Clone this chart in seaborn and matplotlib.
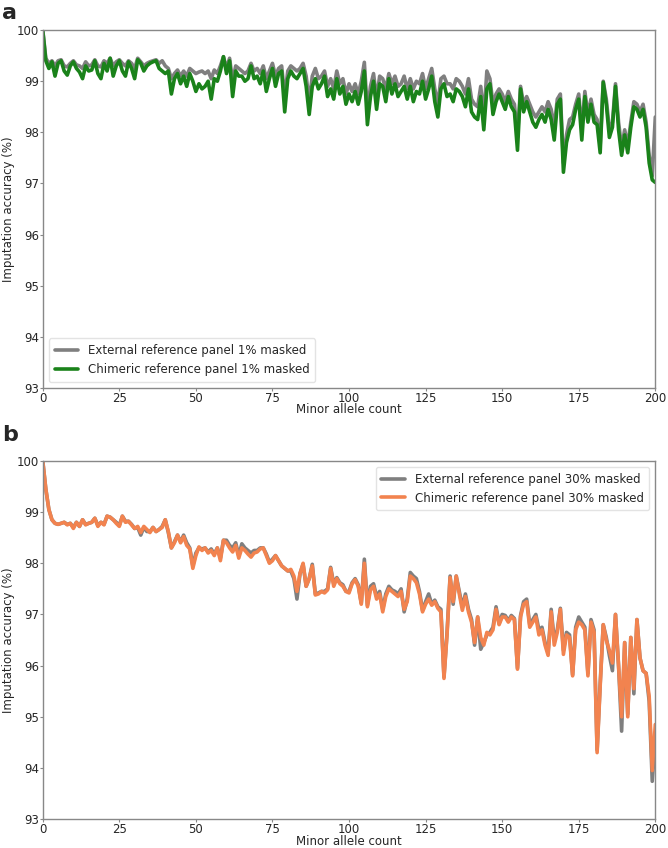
import numpy as np
import pandas as pd
import matplotlib
matplotlib.use("Agg")
import matplotlib.pyplot as plt
import seaborn as sns

# ---------------- data ----------------
minor_allele_count = list(range(0, 201))

ext_1pct = [
    100.0, 99.45, 99.35, 99.40, 99.30, 99.40, 99.42, 99.30, 99.28, 99.35,
    99.40, 99.32, 99.30, 99.25, 99.38, 99.30, 99.32, 99.42, 99.30, 99.28,
    99.40, 99.35, 99.45, 99.30, 99.38, 99.42, 99.35, 99.30, 99.40, 99.35,
    99.25, 99.45, 99.38, 99.30, 99.35, 99.38, 99.40, 99.42, 99.35, 99.40,
    99.30, 99.25, 99.05, 99.15, 99.22, 99.10, 99.20, 99.10, 99.25, 99.20,
    99.15, 99.18, 99.20, 99.15, 99.20, 99.05, 99.22, 99.15, 99.30, 99.48,
    99.25, 99.45, 99.00, 99.30, 99.25, 99.20, 99.15, 99.20, 99.35, 99.20,
    99.25, 99.15, 99.30, 99.05, 99.20, 99.35, 99.10, 99.25, 99.30, 98.70,
    99.20, 99.30, 99.25, 99.20, 99.25, 99.35, 99.10, 98.60, 99.10, 99.25,
    99.05, 99.10, 99.20, 98.90, 99.05, 98.85, 99.20, 98.95, 99.05, 98.75,
    98.95, 98.80, 98.95, 98.75, 99.00, 99.37, 98.40, 98.90, 99.15, 98.65,
    99.10, 99.05, 98.85, 99.15, 98.95, 99.10, 98.90, 98.95, 99.10, 98.85,
    99.05, 98.85, 99.00, 98.95, 99.15, 98.85, 99.05, 99.25, 98.85, 98.55,
    99.05, 99.10, 98.95, 98.95, 98.85, 99.05, 99.00, 98.90, 98.75, 99.05,
    98.65, 98.55, 98.50, 98.90, 98.30, 99.20, 99.05, 98.55, 98.75, 98.85,
    98.75, 98.60, 98.80, 98.65, 98.55, 97.90, 98.90, 98.55, 98.70, 98.55,
    98.40, 98.30, 98.40, 98.50, 98.40, 98.60, 98.45, 98.10, 98.65, 98.75,
    97.40, 97.95, 98.25, 98.30, 98.55, 98.75, 98.05, 98.80, 98.35, 98.65,
    98.35, 98.25, 97.75, 99.00, 98.65, 98.05, 98.20, 98.95, 98.20, 97.70,
    98.05, 97.75, 98.20, 98.60, 98.55, 98.40, 98.55, 98.20, 97.55, 97.15,
    98.30,
]

chim_1pct = [
    100.0, 99.40, 99.25, 99.38, 99.10, 99.35, 99.40, 99.20, 99.12, 99.30,
    99.38, 99.25, 99.18, 99.05, 99.30, 99.20, 99.22, 99.40, 99.15, 99.05,
    99.35, 99.20, 99.45, 99.10, 99.30, 99.40, 99.20, 99.10, 99.38, 99.25,
    99.05, 99.42, 99.35, 99.20, 99.30, 99.35, 99.38, 99.40, 99.25, 99.20,
    99.15, 99.20, 98.75, 99.05, 99.15, 98.95, 99.10, 98.90, 99.15, 99.00,
    98.80, 98.95, 98.85, 98.90, 99.00, 98.65, 99.05, 99.00, 99.20, 99.48,
    99.15, 99.40, 98.70, 99.20, 99.10, 99.10, 99.00, 99.05, 99.30, 99.05,
    99.10, 98.95, 99.20, 98.80, 99.05, 99.25, 98.90, 99.15, 99.20, 98.40,
    99.05, 99.20, 99.10, 99.05, 99.15, 99.25, 98.90, 98.35, 98.90, 99.05,
    98.85, 98.95, 99.10, 98.70, 98.85, 98.65, 99.05, 98.75, 98.90, 98.55,
    98.75, 98.60, 98.80, 98.55, 98.80, 99.20, 98.15, 98.70, 99.00, 98.45,
    98.95, 98.90, 98.60, 99.05, 98.75, 98.95, 98.70, 98.80, 98.90, 98.65,
    98.90, 98.60, 98.80, 98.75, 99.00, 98.65, 98.85, 99.10, 98.60, 98.30,
    98.85, 98.95, 98.70, 98.75, 98.60, 98.85, 98.80, 98.70, 98.50, 98.85,
    98.40, 98.30, 98.25, 98.70, 98.05, 98.85, 98.95, 98.35, 98.60, 98.75,
    98.60, 98.45, 98.70, 98.50, 98.40, 97.65, 98.85, 98.40, 98.60, 98.40,
    98.20, 98.10, 98.25, 98.35, 98.20, 98.45, 98.25, 97.85, 98.55, 98.65,
    97.22, 97.80, 98.05, 98.15, 98.45, 98.65, 97.85, 98.70, 98.20, 98.55,
    98.20, 98.15, 97.60, 98.98, 98.55, 97.90, 98.10, 98.90, 98.05, 97.55,
    97.95, 97.60, 98.10, 98.50, 98.45, 98.30, 98.45, 98.10, 97.40, 97.07,
    97.02,
]

ext_30pct = [
    100.0, 99.45, 99.05, 98.85, 98.78, 98.76, 98.78, 98.80, 98.76, 98.78,
    98.70, 98.80, 98.72, 98.85, 98.76, 98.78, 98.80, 98.88, 98.74, 98.80,
    98.76, 98.92, 98.90, 98.85, 98.80, 98.74, 98.92, 98.82, 98.82, 98.76,
    98.68, 98.70, 98.55, 98.70, 98.62, 98.62, 98.70, 98.62, 98.66, 98.72,
    98.85, 98.60, 98.30, 98.42, 98.55, 98.42, 98.55, 98.40, 98.30, 97.95,
    98.20, 98.30, 98.28, 98.30, 98.22, 98.28, 98.18, 98.30, 98.10, 98.45,
    98.45, 98.35, 98.30, 98.40, 98.15, 98.38, 98.30, 98.25, 98.20, 98.25,
    98.25, 98.30, 98.30, 98.18, 98.02, 98.08, 98.15, 98.05, 97.95, 97.90,
    97.85, 97.85, 97.70, 97.30, 97.80, 97.98, 97.55, 97.70, 97.98, 97.40,
    97.42, 97.45, 97.45, 97.50, 97.92, 97.60, 97.72, 97.62, 97.58, 97.45,
    97.45, 97.62, 97.70, 97.58, 97.22, 98.08, 97.18, 97.55, 97.60, 97.35,
    97.45, 97.10, 97.40, 97.55, 97.48, 97.45, 97.40, 97.50, 97.05, 97.30,
    97.82, 97.75, 97.70, 97.45, 97.08, 97.25, 97.40, 97.20, 97.28, 97.15,
    97.10, 95.78, 96.65, 97.75, 97.20, 97.75, 97.45, 97.15, 97.40, 97.10,
    96.90, 96.40, 96.95, 96.32, 96.45, 96.60, 96.65, 96.75, 97.15, 96.82,
    97.00, 96.98, 96.88, 96.98, 96.92, 95.95, 96.98, 97.25, 97.30, 96.80,
    96.90, 97.00, 96.70, 96.75, 96.45, 96.25, 97.10, 96.50, 96.70, 97.12,
    96.30, 96.65, 96.60, 95.82, 96.75, 96.95, 96.85, 96.75, 95.85, 96.90,
    96.70, 94.35, 95.65, 96.80, 96.55, 96.20, 95.90, 97.00, 96.00, 94.72,
    96.45, 95.05, 96.55, 95.45, 96.90, 96.15, 95.90, 95.85, 95.30, 93.74,
    94.60,
]

chim_30pct = [
    100.0, 99.45, 99.05, 98.85, 98.78, 98.76, 98.78, 98.80, 98.75, 98.78,
    98.68, 98.80, 98.72, 98.85, 98.75, 98.78, 98.80, 98.88, 98.72, 98.80,
    98.75, 98.92, 98.90, 98.85, 98.78, 98.72, 98.92, 98.80, 98.82, 98.75,
    98.68, 98.72, 98.60, 98.72, 98.66, 98.60, 98.70, 98.62, 98.66, 98.70,
    98.85, 98.62, 98.30, 98.40, 98.55, 98.40, 98.52, 98.35, 98.28, 97.90,
    98.15, 98.32, 98.25, 98.30, 98.20, 98.25, 98.15, 98.30, 98.05, 98.45,
    98.40, 98.30, 98.22, 98.35, 98.10, 98.30, 98.25, 98.18, 98.12, 98.20,
    98.22, 98.28, 98.30, 98.15, 98.00, 98.05, 98.15, 98.05, 97.95, 97.90,
    97.85, 97.88, 97.75, 97.45, 97.80, 98.00, 97.55, 97.70, 97.95, 97.38,
    97.40, 97.45, 97.42, 97.48, 97.90, 97.55, 97.70, 97.60, 97.55, 97.45,
    97.42, 97.60, 97.68, 97.55, 97.20, 98.00, 97.15, 97.48, 97.55, 97.30,
    97.40, 97.05, 97.35, 97.50, 97.45, 97.40, 97.35, 97.45, 97.10, 97.25,
    97.75, 97.70, 97.62, 97.40, 97.05, 97.20, 97.30, 97.18, 97.25, 97.12,
    97.05, 95.75, 96.60, 97.72, 97.25, 97.75, 97.40, 97.08, 97.35, 97.05,
    96.85, 96.45, 96.95, 96.55, 96.40, 96.65, 96.60, 96.70, 97.10, 96.80,
    96.95, 96.95, 96.85, 96.95, 96.90, 95.93, 96.95, 97.20, 97.25, 96.75,
    96.85, 96.95, 96.60, 96.70, 96.40, 96.20, 97.05, 96.40, 96.65, 97.10,
    96.22, 96.60, 96.55, 95.80, 96.70, 96.85, 96.80, 96.70, 95.80, 96.85,
    96.65, 94.30, 95.60, 96.80, 96.50, 96.30, 96.05, 97.00, 96.00, 95.00,
    96.45, 95.00, 96.55, 95.55, 96.90, 96.15, 95.90, 95.85, 95.40, 93.95,
    94.85,
]

labels_a = ["External reference panel 1% masked", "Chimeric reference panel 1% masked"]
labels_b = ["External reference panel 30% masked", "Chimeric reference panel 30% masked"]
yticks = [93, 94, 95, 96, 97, 98, 99, 100]
xticks = [0, 25, 50, 75, 100, 125, 150, 175, 200]

# ---------------- style ----------------
sns.set_style("white")
plt.rcParams["font.family"] = ["DejaVu Sans"]
FS = 8.5

GRAY = "#7f7f7f"
GREEN = "#1a821a"
ORANGE = "#f2834f"
SPINE = "#888888"

fig = plt.figure(figsize=(6.68, 8.48), dpi=100)
ax_a = fig.add_axes([0.064, 0.5425, 0.917, 0.422])
ax_b = fig.add_axes([0.064, 0.034, 0.917, 0.4225])

def panel(ax, ext, chim, labels, colors, loc):
    df = pd.DataFrame({
        "x": minor_allele_count * 2,
        "y": ext + chim,
        "series": [labels[0]] * len(ext) + [labels[1]] * len(chim),
    })
    sns.lineplot(data=df, x="x", y="y", hue="series",
                 palette={labels[0]: colors[0], labels[1]: colors[1]},
                 linewidth=2.6, ax=ax)
    ax.set_xlim(0, 200)
    ax.set_ylim(93, 100)
    ax.set_xticks(xticks)
    ax.set_yticks(yticks)
    ax.set_xlabel("Minor allele count", fontsize=FS, labelpad=-1)
    ax.set_ylabel("Imputation accuracy (%)", fontsize=FS, labelpad=1)
    ax.tick_params(axis="both", labelsize=FS, length=2.5, width=0.8,
                   color=SPINE, pad=0.3, direction="out", left=True, bottom=True)
    for s in ax.spines.values():
        s.set_color(SPINE)
        s.set_linewidth(1.0)
    leg = ax.legend(loc=loc, fontsize=FS, frameon=True, fancybox=True,
                    borderpad=0.5, handlelength=2.0)
    for line in leg.get_lines():
        line.set_linewidth(2.6)
    leg.get_frame().set_edgecolor("#dddddd")

panel(ax_a, ext_1pct, chim_1pct, labels_a, (GRAY, GREEN), "lower left")
panel(ax_b, ext_30pct, chim_30pct, labels_b, (GRAY, ORANGE), "upper right")

fig.text(0.003, 0.997, "a", fontsize=16, fontweight="bold", va="top", ha="left")
fig.text(0.003, 0.499, "b", fontsize=16, fontweight="bold", va="top", ha="left")

fig.savefig("out.png", dpi=100, facecolor="white")
